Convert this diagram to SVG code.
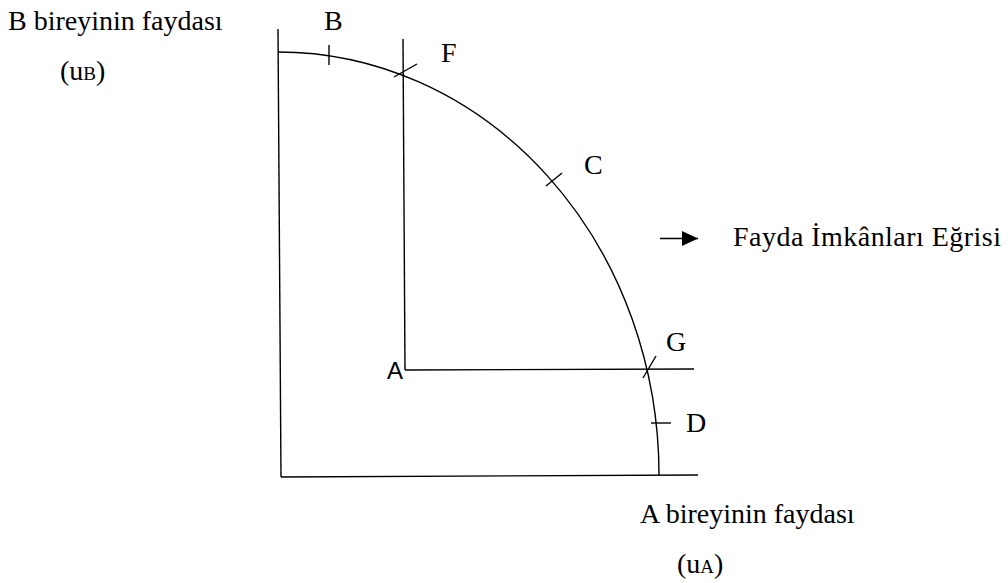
<svg xmlns="http://www.w3.org/2000/svg" width="1008" height="583" viewBox="0 0 1008 583">
<style>
.ln{fill:none;stroke:#000;stroke-width:1.4}
.t{font-family:"Liberation Serif","Times New Roman",serif;font-size:28px;fill:#000}
.s{font-family:"Liberation Sans",Arial,sans-serif;font-size:24px;fill:#000}
</style>
<defs>
<marker id="ah" markerWidth="16" markerHeight="15" refX="16" refY="7.5" orient="auto" markerUnits="userSpaceOnUse">
<path d="M0,0 L16,7.5 L0,15 Z" fill="#000"/>
</marker>
</defs>
<rect width="1008" height="583" fill="#fff"/>
<g id="axes">
<line class="ln" x1="278" y1="29" x2="281" y2="477"/>
<line class="ln" x1="281" y1="477" x2="698" y2="475"/>
</g>
<g id="curve">
<path class="ln" d="M278 52 A381 423 0 0 1 659 475"/>
</g>
<g id="connectors">
<line class="ln" x1="660" y1="238.5" x2="698" y2="238.5" marker-end="url(#ah)"/>
<line class="ln" x1="403" y1="39" x2="405" y2="370"/>
<line class="ln" x1="405" y1="370" x2="694" y2="369"/>
</g>
<g id="ticks">
<line class="ln" x1="329" y1="45" x2="329" y2="65"/>
<line class="ln" x1="394" y1="77" x2="417" y2="64"/>
<line class="ln" x1="546" y1="186" x2="562" y2="173"/>
<line class="ln" x1="643" y1="378" x2="656" y2="356"/>
<line class="ln" x1="651" y1="423" x2="671" y2="423"/>
</g>
<g id="labels">
<text class="t" x="8" y="30">B bireyinin faydası</text>
<text class="t" x="60" y="80">(u<tspan font-size="19">B</tspan>)</text>
<text class="t" x="324" y="30">B</text>
<text class="t" x="441" y="62">F</text>
<text class="t" x="584" y="174">C</text>
<text class="t" x="666" y="351">G</text>
<text class="t" x="686" y="432">D</text>
<text class="s" x="387" y="379">A</text>
<text class="t" x="733" y="246" textLength="268" lengthAdjust="spacing">Fayda İmkânları Eğrisi</text>
<text class="t" x="640" y="523">A bireyinin faydası</text>
<text class="t" x="677" y="573">(u<tspan font-size="19">A</tspan>)</text>
</g>
</svg>
